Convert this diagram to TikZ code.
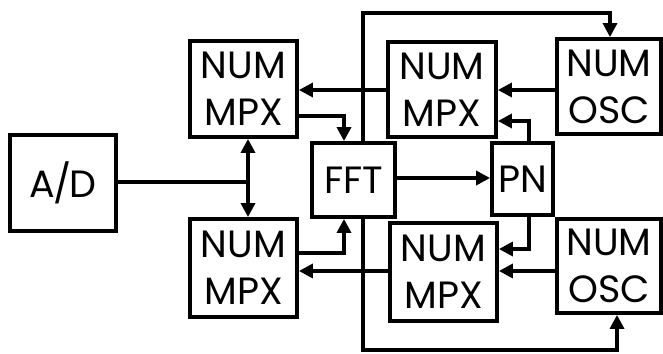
\documentclass[tikz,border=0pt]{standalone}
\usepackage{fontspec}
\setmainfont{Poppins}
\usetikzlibrary{arrows.meta}
\begin{document}
\begin{tikzpicture}[x=1pt,y=-1pt,
  blk/.style={draw,line width=3.8pt,inner sep=0pt,align=center,
    font=\fontsize{38}{47}\selectfont},
  conn/.style={line width=3.3pt},
  arr/.style={conn,-{Triangle[length=14pt,width=14pt]}}]
\useasboundingbox (0,0) rectangle (663,353);
\node[blk,minimum width=106pt,minimum height=96pt] (AD) at (63,183) {A\kern-2pt/\kern-2pt D};
\node[blk,minimum width=107pt,minimum height=96pt] (M1) at (243.5,89) {NUM\\MPX};
\node[blk,minimum width=107pt,minimum height=98pt] (M2) at (243.5,268) {NUM\\MPX};
\node[blk,minimum width=83pt,minimum height=74pt] (FFT) at (353.5,180) {FFT};
\node[blk,minimum width=108pt,minimum height=95pt] (M3) at (442,89.5) {NUM\\MPX};
\node[blk,minimum width=104pt,minimum height=95pt] (O1) at (609,86.5) {NUM\\OSC};
\node[blk,minimum width=61pt,minimum height=72pt] (PN) at (522.5,179) {PN};
\node[blk,minimum width=107pt,minimum height=98pt] (M4) at (443.5,272) {NUM\\MPX};
\node[blk,minimum width=104pt,minimum height=94pt] (O2) at (609,266) {NUM\\OSC};
% helper coordinates
\coordinate (J) at (248,182);
\coordinate (ya) at (0,90);
\coordinate (yb) at (0,116);
\coordinate (yc) at (0,121);
\coordinate (yd) at (0,178);
\coordinate (ye) at (0,249);
\coordinate (yf) at (0,253);
\coordinate (yg) at (0,271);
\coordinate (xa) at (344,0);
\coordinate (xb) at (363,0);
\coordinate (xc) at (529,0);
\coordinate (T1) at (363,13);
\coordinate (T2) at (610,13);
\coordinate (B1) at (363,350);
\coordinate (B2) at (617,350);
% connectors
\draw[conn] (AD.east |- J) -- (J);
\draw[arr] (J) -- (M1.south -| J);
\draw[arr] (J) -- (M2.north -| J);
\draw[arr] (M3.west |- ya) -- (M1.east |- ya);
\draw[arr] (M1.east |- yb) -- (xa |- yb) -- (FFT.north -| xa);
\draw[arr] (M2.east |- yf) -- (xa |- yf) -- (FFT.south -| xa);
\draw[arr] (M4.west |- yg) -- (M2.east |- yg);
\draw[arr] (FFT.east |- yd) -- (PN.west |- yd);
\draw[arr] (O1.west |- ya) -- (M3.east |- ya);
\draw[arr] (PN.north -| xc) -- (xc |- yc) -- (M3.east |- yc);
\draw[arr] (PN.south -| xc) -- (xc |- ye) -- (M4.east |- ye);
\draw[arr] (O2.west |- yg) -- (M4.east |- yg);
\draw[arr] (FFT.north -| xb) -- (T1) -- (T2) -- (O1.north -| T2);
\draw[arr] (FFT.south -| xb) -- (B1) -- (B2) -- (O2.south -| B2);
\end{tikzpicture}
\end{document}
